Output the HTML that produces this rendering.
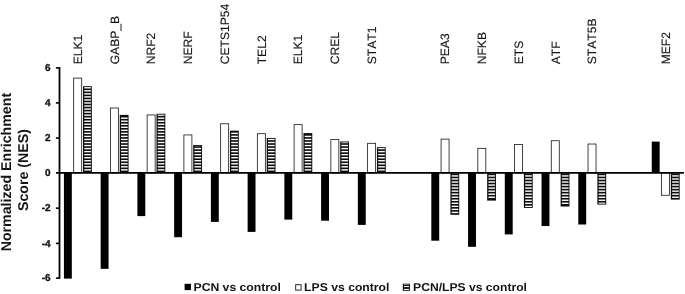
<!DOCTYPE html>
<html><head><meta charset="utf-8"><title>NES chart</title><style>html,body{margin:0;padding:0;background:#fff}svg{display:block}text{text-rendering:geometricPrecision;font-kerning:none;font-family:"Liberation Sans",Arial,sans-serif}</style></head><body>
<svg width="685" height="294" viewBox="0 0 685 294">
<rect width="685" height="294" fill="#fff"/>
<rect x="63.92" y="172.90" width="7.9" height="105.70" fill="#000"/>
<rect x="73.67" y="78.12" width="8" height="94.78" fill="#fff" stroke="#222" stroke-width="0.85"/>
<rect x="83.02" y="86.20" width="8.8" height="86.70" fill="#0c0c0c"/>
<rect x="84.27" y="87.10" width="6.65" height="1.38" fill="#fff"/>
<rect x="84.27" y="90.12" width="6.65" height="1.40" fill="#fff"/>
<rect x="84.27" y="93.16" width="6.65" height="1.40" fill="#fff"/>
<rect x="84.27" y="96.20" width="6.65" height="1.40" fill="#fff"/>
<rect x="84.27" y="99.24" width="6.65" height="1.40" fill="#fff"/>
<rect x="84.27" y="102.28" width="6.65" height="1.40" fill="#fff"/>
<rect x="84.27" y="105.32" width="6.65" height="1.40" fill="#fff"/>
<rect x="84.27" y="108.36" width="6.65" height="1.40" fill="#fff"/>
<rect x="84.27" y="111.40" width="6.65" height="1.40" fill="#fff"/>
<rect x="84.27" y="114.44" width="6.65" height="1.40" fill="#fff"/>
<rect x="84.27" y="117.48" width="6.65" height="1.40" fill="#fff"/>
<rect x="84.27" y="120.52" width="6.65" height="1.40" fill="#fff"/>
<rect x="84.27" y="123.56" width="6.65" height="1.40" fill="#fff"/>
<rect x="84.27" y="126.60" width="6.65" height="1.40" fill="#fff"/>
<rect x="84.27" y="129.64" width="6.65" height="1.40" fill="#fff"/>
<rect x="84.27" y="132.68" width="6.65" height="1.40" fill="#fff"/>
<rect x="84.27" y="135.72" width="6.65" height="1.40" fill="#fff"/>
<rect x="84.27" y="138.76" width="6.65" height="1.40" fill="#fff"/>
<rect x="84.27" y="141.80" width="6.65" height="1.40" fill="#fff"/>
<rect x="84.27" y="144.84" width="6.65" height="1.40" fill="#fff"/>
<rect x="84.27" y="147.88" width="6.65" height="1.40" fill="#fff"/>
<rect x="84.27" y="150.92" width="6.65" height="1.40" fill="#fff"/>
<rect x="84.27" y="153.96" width="6.65" height="1.40" fill="#fff"/>
<rect x="84.27" y="157.00" width="6.65" height="1.40" fill="#fff"/>
<rect x="84.27" y="160.04" width="6.65" height="1.40" fill="#fff"/>
<rect x="84.27" y="163.08" width="6.65" height="1.40" fill="#fff"/>
<rect x="84.27" y="166.12" width="6.65" height="1.40" fill="#fff"/>
<rect x="84.27" y="169.16" width="6.65" height="1.40" fill="#fff"/>
<rect x="84.27" y="172.20" width="6.65" height="0.70" fill="#fff"/>
<text transform="translate(81.97,64.3) rotate(-90)" font-size="12.12" fill="#141414" stroke="#141414" stroke-width="0.15">ELK1</text>
<rect x="100.66" y="172.90" width="7.9" height="95.90" fill="#000"/>
<rect x="110.41" y="108.02" width="8" height="64.88" fill="#fff" stroke="#222" stroke-width="0.85"/>
<rect x="119.76" y="114.90" width="8.8" height="58.00" fill="#0c0c0c"/>
<rect x="121.01" y="117.48" width="6.65" height="1.40" fill="#fff"/>
<rect x="121.01" y="120.52" width="6.65" height="1.40" fill="#fff"/>
<rect x="121.01" y="123.56" width="6.65" height="1.40" fill="#fff"/>
<rect x="121.01" y="126.60" width="6.65" height="1.40" fill="#fff"/>
<rect x="121.01" y="129.64" width="6.65" height="1.40" fill="#fff"/>
<rect x="121.01" y="132.68" width="6.65" height="1.40" fill="#fff"/>
<rect x="121.01" y="135.72" width="6.65" height="1.40" fill="#fff"/>
<rect x="121.01" y="138.76" width="6.65" height="1.40" fill="#fff"/>
<rect x="121.01" y="141.80" width="6.65" height="1.40" fill="#fff"/>
<rect x="121.01" y="144.84" width="6.65" height="1.40" fill="#fff"/>
<rect x="121.01" y="147.88" width="6.65" height="1.40" fill="#fff"/>
<rect x="121.01" y="150.92" width="6.65" height="1.40" fill="#fff"/>
<rect x="121.01" y="153.96" width="6.65" height="1.40" fill="#fff"/>
<rect x="121.01" y="157.00" width="6.65" height="1.40" fill="#fff"/>
<rect x="121.01" y="160.04" width="6.65" height="1.40" fill="#fff"/>
<rect x="121.01" y="163.08" width="6.65" height="1.40" fill="#fff"/>
<rect x="121.01" y="166.12" width="6.65" height="1.40" fill="#fff"/>
<rect x="121.01" y="169.16" width="6.65" height="1.40" fill="#fff"/>
<rect x="121.01" y="172.20" width="6.65" height="0.70" fill="#fff"/>
<text transform="translate(118.71,64.3) rotate(-90)" font-size="12.12" fill="#141414" stroke="#141414" stroke-width="0.15">GABP_B</text>
<rect x="137.40" y="172.90" width="7.9" height="43.20" fill="#000"/>
<rect x="147.15" y="114.97" width="8" height="57.93" fill="#fff" stroke="#222" stroke-width="0.85"/>
<rect x="156.50" y="113.75" width="8.8" height="59.15" fill="#0c0c0c"/>
<rect x="157.75" y="114.65" width="6.65" height="1.19" fill="#fff"/>
<rect x="157.75" y="117.48" width="6.65" height="1.40" fill="#fff"/>
<rect x="157.75" y="120.52" width="6.65" height="1.40" fill="#fff"/>
<rect x="157.75" y="123.56" width="6.65" height="1.40" fill="#fff"/>
<rect x="157.75" y="126.60" width="6.65" height="1.40" fill="#fff"/>
<rect x="157.75" y="129.64" width="6.65" height="1.40" fill="#fff"/>
<rect x="157.75" y="132.68" width="6.65" height="1.40" fill="#fff"/>
<rect x="157.75" y="135.72" width="6.65" height="1.40" fill="#fff"/>
<rect x="157.75" y="138.76" width="6.65" height="1.40" fill="#fff"/>
<rect x="157.75" y="141.80" width="6.65" height="1.40" fill="#fff"/>
<rect x="157.75" y="144.84" width="6.65" height="1.40" fill="#fff"/>
<rect x="157.75" y="147.88" width="6.65" height="1.40" fill="#fff"/>
<rect x="157.75" y="150.92" width="6.65" height="1.40" fill="#fff"/>
<rect x="157.75" y="153.96" width="6.65" height="1.40" fill="#fff"/>
<rect x="157.75" y="157.00" width="6.65" height="1.40" fill="#fff"/>
<rect x="157.75" y="160.04" width="6.65" height="1.40" fill="#fff"/>
<rect x="157.75" y="163.08" width="6.65" height="1.40" fill="#fff"/>
<rect x="157.75" y="166.12" width="6.65" height="1.40" fill="#fff"/>
<rect x="157.75" y="169.16" width="6.65" height="1.40" fill="#fff"/>
<rect x="157.75" y="172.20" width="6.65" height="0.70" fill="#fff"/>
<text transform="translate(155.45,64.3) rotate(-90)" font-size="12.12" fill="#141414" stroke="#141414" stroke-width="0.15">NRF2</text>
<rect x="174.14" y="172.90" width="7.9" height="64.30" fill="#000"/>
<rect x="183.89" y="134.93" width="8" height="37.97" fill="#fff" stroke="#222" stroke-width="0.85"/>
<rect x="193.24" y="145.00" width="8.8" height="27.90" fill="#0c0c0c"/>
<rect x="194.49" y="145.90" width="6.65" height="0.34" fill="#fff"/>
<rect x="194.49" y="147.88" width="6.65" height="1.40" fill="#fff"/>
<rect x="194.49" y="150.92" width="6.65" height="1.40" fill="#fff"/>
<rect x="194.49" y="153.96" width="6.65" height="1.40" fill="#fff"/>
<rect x="194.49" y="157.00" width="6.65" height="1.40" fill="#fff"/>
<rect x="194.49" y="160.04" width="6.65" height="1.40" fill="#fff"/>
<rect x="194.49" y="163.08" width="6.65" height="1.40" fill="#fff"/>
<rect x="194.49" y="166.12" width="6.65" height="1.40" fill="#fff"/>
<rect x="194.49" y="169.16" width="6.65" height="1.40" fill="#fff"/>
<rect x="194.49" y="172.20" width="6.65" height="0.70" fill="#fff"/>
<text transform="translate(192.19,64.3) rotate(-90)" font-size="12.12" fill="#141414" stroke="#141414" stroke-width="0.15">NERF</text>
<rect x="210.88" y="172.90" width="7.9" height="49.00" fill="#000"/>
<rect x="220.63" y="123.77" width="8" height="49.13" fill="#fff" stroke="#222" stroke-width="0.85"/>
<rect x="229.98" y="130.65" width="8.8" height="42.25" fill="#0c0c0c"/>
<rect x="231.23" y="132.68" width="6.65" height="1.40" fill="#fff"/>
<rect x="231.23" y="135.72" width="6.65" height="1.40" fill="#fff"/>
<rect x="231.23" y="138.76" width="6.65" height="1.40" fill="#fff"/>
<rect x="231.23" y="141.80" width="6.65" height="1.40" fill="#fff"/>
<rect x="231.23" y="144.84" width="6.65" height="1.40" fill="#fff"/>
<rect x="231.23" y="147.88" width="6.65" height="1.40" fill="#fff"/>
<rect x="231.23" y="150.92" width="6.65" height="1.40" fill="#fff"/>
<rect x="231.23" y="153.96" width="6.65" height="1.40" fill="#fff"/>
<rect x="231.23" y="157.00" width="6.65" height="1.40" fill="#fff"/>
<rect x="231.23" y="160.04" width="6.65" height="1.40" fill="#fff"/>
<rect x="231.23" y="163.08" width="6.65" height="1.40" fill="#fff"/>
<rect x="231.23" y="166.12" width="6.65" height="1.40" fill="#fff"/>
<rect x="231.23" y="169.16" width="6.65" height="1.40" fill="#fff"/>
<rect x="231.23" y="172.20" width="6.65" height="0.70" fill="#fff"/>
<text transform="translate(228.93,64.3) rotate(-90)" font-size="12.12" fill="#141414" stroke="#141414" stroke-width="0.15">CETS1P54</text>
<rect x="247.62" y="172.90" width="7.9" height="59.00" fill="#000"/>
<rect x="257.37" y="133.68" width="8" height="39.22" fill="#fff" stroke="#222" stroke-width="0.85"/>
<rect x="266.72" y="138.00" width="8.8" height="34.90" fill="#0c0c0c"/>
<rect x="267.97" y="138.90" width="6.65" height="1.26" fill="#fff"/>
<rect x="267.97" y="141.80" width="6.65" height="1.40" fill="#fff"/>
<rect x="267.97" y="144.84" width="6.65" height="1.40" fill="#fff"/>
<rect x="267.97" y="147.88" width="6.65" height="1.40" fill="#fff"/>
<rect x="267.97" y="150.92" width="6.65" height="1.40" fill="#fff"/>
<rect x="267.97" y="153.96" width="6.65" height="1.40" fill="#fff"/>
<rect x="267.97" y="157.00" width="6.65" height="1.40" fill="#fff"/>
<rect x="267.97" y="160.04" width="6.65" height="1.40" fill="#fff"/>
<rect x="267.97" y="163.08" width="6.65" height="1.40" fill="#fff"/>
<rect x="267.97" y="166.12" width="6.65" height="1.40" fill="#fff"/>
<rect x="267.97" y="169.16" width="6.65" height="1.40" fill="#fff"/>
<rect x="267.97" y="172.20" width="6.65" height="0.70" fill="#fff"/>
<text transform="translate(265.67,64.3) rotate(-90)" font-size="12.12" fill="#141414" stroke="#141414" stroke-width="0.15">TEL2</text>
<rect x="284.36" y="172.90" width="7.9" height="46.70" fill="#000"/>
<rect x="294.11" y="124.62" width="8" height="48.28" fill="#fff" stroke="#222" stroke-width="0.85"/>
<rect x="303.46" y="133.10" width="8.8" height="39.80" fill="#0c0c0c"/>
<rect x="304.71" y="135.72" width="6.65" height="1.40" fill="#fff"/>
<rect x="304.71" y="138.76" width="6.65" height="1.40" fill="#fff"/>
<rect x="304.71" y="141.80" width="6.65" height="1.40" fill="#fff"/>
<rect x="304.71" y="144.84" width="6.65" height="1.40" fill="#fff"/>
<rect x="304.71" y="147.88" width="6.65" height="1.40" fill="#fff"/>
<rect x="304.71" y="150.92" width="6.65" height="1.40" fill="#fff"/>
<rect x="304.71" y="153.96" width="6.65" height="1.40" fill="#fff"/>
<rect x="304.71" y="157.00" width="6.65" height="1.40" fill="#fff"/>
<rect x="304.71" y="160.04" width="6.65" height="1.40" fill="#fff"/>
<rect x="304.71" y="163.08" width="6.65" height="1.40" fill="#fff"/>
<rect x="304.71" y="166.12" width="6.65" height="1.40" fill="#fff"/>
<rect x="304.71" y="169.16" width="6.65" height="1.40" fill="#fff"/>
<rect x="304.71" y="172.20" width="6.65" height="0.70" fill="#fff"/>
<text transform="translate(302.41,64.3) rotate(-90)" font-size="12.12" fill="#141414" stroke="#141414" stroke-width="0.15">ELK1</text>
<rect x="321.10" y="172.90" width="7.9" height="47.80" fill="#000"/>
<rect x="330.85" y="139.58" width="8" height="33.32" fill="#fff" stroke="#222" stroke-width="0.85"/>
<rect x="340.20" y="141.50" width="8.8" height="31.40" fill="#0c0c0c"/>
<rect x="341.45" y="142.40" width="6.65" height="0.80" fill="#fff"/>
<rect x="341.45" y="144.84" width="6.65" height="1.40" fill="#fff"/>
<rect x="341.45" y="147.88" width="6.65" height="1.40" fill="#fff"/>
<rect x="341.45" y="150.92" width="6.65" height="1.40" fill="#fff"/>
<rect x="341.45" y="153.96" width="6.65" height="1.40" fill="#fff"/>
<rect x="341.45" y="157.00" width="6.65" height="1.40" fill="#fff"/>
<rect x="341.45" y="160.04" width="6.65" height="1.40" fill="#fff"/>
<rect x="341.45" y="163.08" width="6.65" height="1.40" fill="#fff"/>
<rect x="341.45" y="166.12" width="6.65" height="1.40" fill="#fff"/>
<rect x="341.45" y="169.16" width="6.65" height="1.40" fill="#fff"/>
<rect x="341.45" y="172.20" width="6.65" height="0.70" fill="#fff"/>
<text transform="translate(339.15,64.3) rotate(-90)" font-size="12.12" fill="#141414" stroke="#141414" stroke-width="0.15">CREL</text>
<rect x="357.84" y="172.90" width="7.9" height="52.00" fill="#000"/>
<rect x="367.59" y="143.33" width="8" height="29.57" fill="#fff" stroke="#222" stroke-width="0.85"/>
<rect x="376.94" y="147.20" width="8.8" height="25.70" fill="#0c0c0c"/>
<rect x="378.19" y="148.10" width="6.65" height="1.18" fill="#fff"/>
<rect x="378.19" y="150.92" width="6.65" height="1.40" fill="#fff"/>
<rect x="378.19" y="153.96" width="6.65" height="1.40" fill="#fff"/>
<rect x="378.19" y="157.00" width="6.65" height="1.40" fill="#fff"/>
<rect x="378.19" y="160.04" width="6.65" height="1.40" fill="#fff"/>
<rect x="378.19" y="163.08" width="6.65" height="1.40" fill="#fff"/>
<rect x="378.19" y="166.12" width="6.65" height="1.40" fill="#fff"/>
<rect x="378.19" y="169.16" width="6.65" height="1.40" fill="#fff"/>
<rect x="378.19" y="172.20" width="6.65" height="0.70" fill="#fff"/>
<text transform="translate(375.89,64.3) rotate(-90)" font-size="12.12" fill="#141414" stroke="#141414" stroke-width="0.15">STAT1</text>
<rect x="431.32" y="172.90" width="7.9" height="67.80" fill="#000"/>
<rect x="441.07" y="139.12" width="8" height="33.78" fill="#fff" stroke="#222" stroke-width="0.85"/>
<rect x="450.42" y="172.90" width="8.8" height="41.90" fill="#0c0c0c"/>
<rect x="451.67" y="172.90" width="6.65" height="0.70" fill="#fff"/>
<rect x="451.67" y="175.24" width="6.65" height="1.40" fill="#fff"/>
<rect x="451.67" y="178.28" width="6.65" height="1.40" fill="#fff"/>
<rect x="451.67" y="181.32" width="6.65" height="1.40" fill="#fff"/>
<rect x="451.67" y="184.36" width="6.65" height="1.40" fill="#fff"/>
<rect x="451.67" y="187.40" width="6.65" height="1.40" fill="#fff"/>
<rect x="451.67" y="190.44" width="6.65" height="1.40" fill="#fff"/>
<rect x="451.67" y="193.48" width="6.65" height="1.40" fill="#fff"/>
<rect x="451.67" y="196.52" width="6.65" height="1.40" fill="#fff"/>
<rect x="451.67" y="199.56" width="6.65" height="1.40" fill="#fff"/>
<rect x="451.67" y="202.60" width="6.65" height="1.40" fill="#fff"/>
<rect x="451.67" y="205.64" width="6.65" height="1.40" fill="#fff"/>
<rect x="451.67" y="208.68" width="6.65" height="1.40" fill="#fff"/>
<rect x="451.67" y="211.72" width="6.65" height="1.40" fill="#fff"/>
<text transform="translate(449.37,64.3) rotate(-90)" font-size="12.12" fill="#141414" stroke="#141414" stroke-width="0.15">PEA3</text>
<rect x="468.06" y="172.90" width="7.9" height="73.90" fill="#000"/>
<rect x="477.81" y="148.33" width="8" height="24.57" fill="#fff" stroke="#222" stroke-width="0.85"/>
<rect x="487.16" y="172.90" width="8.8" height="27.70" fill="#0c0c0c"/>
<rect x="488.41" y="172.90" width="6.65" height="0.70" fill="#fff"/>
<rect x="488.41" y="175.24" width="6.65" height="1.40" fill="#fff"/>
<rect x="488.41" y="178.28" width="6.65" height="1.40" fill="#fff"/>
<rect x="488.41" y="181.32" width="6.65" height="1.40" fill="#fff"/>
<rect x="488.41" y="184.36" width="6.65" height="1.40" fill="#fff"/>
<rect x="488.41" y="187.40" width="6.65" height="1.40" fill="#fff"/>
<rect x="488.41" y="190.44" width="6.65" height="1.40" fill="#fff"/>
<rect x="488.41" y="193.48" width="6.65" height="1.40" fill="#fff"/>
<rect x="488.41" y="196.52" width="6.65" height="1.40" fill="#fff"/>
<text transform="translate(486.11,64.3) rotate(-90)" font-size="12.12" fill="#141414" stroke="#141414" stroke-width="0.15">NFKB</text>
<rect x="504.80" y="172.90" width="7.9" height="61.50" fill="#000"/>
<rect x="514.55" y="144.53" width="8" height="28.38" fill="#fff" stroke="#222" stroke-width="0.85"/>
<rect x="523.90" y="172.90" width="8.8" height="35.00" fill="#0c0c0c"/>
<rect x="525.15" y="172.90" width="6.65" height="0.70" fill="#fff"/>
<rect x="525.15" y="175.24" width="6.65" height="1.40" fill="#fff"/>
<rect x="525.15" y="178.28" width="6.65" height="1.40" fill="#fff"/>
<rect x="525.15" y="181.32" width="6.65" height="1.40" fill="#fff"/>
<rect x="525.15" y="184.36" width="6.65" height="1.40" fill="#fff"/>
<rect x="525.15" y="187.40" width="6.65" height="1.40" fill="#fff"/>
<rect x="525.15" y="190.44" width="6.65" height="1.40" fill="#fff"/>
<rect x="525.15" y="193.48" width="6.65" height="1.40" fill="#fff"/>
<rect x="525.15" y="196.52" width="6.65" height="1.40" fill="#fff"/>
<rect x="525.15" y="199.56" width="6.65" height="1.40" fill="#fff"/>
<rect x="525.15" y="202.60" width="6.65" height="1.40" fill="#fff"/>
<rect x="525.15" y="205.64" width="6.65" height="1.36" fill="#fff"/>
<text transform="translate(522.85,64.3) rotate(-90)" font-size="12.12" fill="#141414" stroke="#141414" stroke-width="0.15">ETS</text>
<rect x="541.54" y="172.90" width="7.9" height="53.15" fill="#000"/>
<rect x="551.29" y="140.73" width="8" height="32.17" fill="#fff" stroke="#222" stroke-width="0.85"/>
<rect x="560.64" y="172.90" width="8.8" height="33.60" fill="#0c0c0c"/>
<rect x="561.89" y="172.90" width="6.65" height="0.70" fill="#fff"/>
<rect x="561.89" y="175.24" width="6.65" height="1.40" fill="#fff"/>
<rect x="561.89" y="178.28" width="6.65" height="1.40" fill="#fff"/>
<rect x="561.89" y="181.32" width="6.65" height="1.40" fill="#fff"/>
<rect x="561.89" y="184.36" width="6.65" height="1.40" fill="#fff"/>
<rect x="561.89" y="187.40" width="6.65" height="1.40" fill="#fff"/>
<rect x="561.89" y="190.44" width="6.65" height="1.40" fill="#fff"/>
<rect x="561.89" y="193.48" width="6.65" height="1.40" fill="#fff"/>
<rect x="561.89" y="196.52" width="6.65" height="1.40" fill="#fff"/>
<rect x="561.89" y="199.56" width="6.65" height="1.40" fill="#fff"/>
<rect x="561.89" y="202.60" width="6.65" height="1.40" fill="#fff"/>
<text transform="translate(559.59,64.3) rotate(-90)" font-size="12.12" fill="#141414" stroke="#141414" stroke-width="0.15">ATF</text>
<rect x="578.28" y="172.90" width="7.9" height="51.60" fill="#000"/>
<rect x="588.03" y="144.03" width="8" height="28.88" fill="#fff" stroke="#222" stroke-width="0.85"/>
<rect x="597.38" y="172.90" width="8.8" height="31.70" fill="#0c0c0c"/>
<rect x="598.63" y="172.90" width="6.65" height="0.70" fill="#fff"/>
<rect x="598.63" y="175.24" width="6.65" height="1.40" fill="#fff"/>
<rect x="598.63" y="178.28" width="6.65" height="1.40" fill="#fff"/>
<rect x="598.63" y="181.32" width="6.65" height="1.40" fill="#fff"/>
<rect x="598.63" y="184.36" width="6.65" height="1.40" fill="#fff"/>
<rect x="598.63" y="187.40" width="6.65" height="1.40" fill="#fff"/>
<rect x="598.63" y="190.44" width="6.65" height="1.40" fill="#fff"/>
<rect x="598.63" y="193.48" width="6.65" height="1.40" fill="#fff"/>
<rect x="598.63" y="196.52" width="6.65" height="1.40" fill="#fff"/>
<rect x="598.63" y="199.56" width="6.65" height="1.40" fill="#fff"/>
<rect x="598.63" y="202.60" width="6.65" height="1.10" fill="#fff"/>
<text transform="translate(596.33,64.3) rotate(-90)" font-size="12.12" fill="#141414" stroke="#141414" stroke-width="0.15">STAT5B</text>
<rect x="651.76" y="141.60" width="7.9" height="31.30" fill="#000"/>
<rect x="661.51" y="172.90" width="8" height="22.37" fill="#fff" stroke="#222" stroke-width="0.85"/>
<rect x="670.86" y="172.90" width="8.8" height="26.70" fill="#0c0c0c"/>
<rect x="672.11" y="172.90" width="6.65" height="0.70" fill="#fff"/>
<rect x="672.11" y="175.24" width="6.65" height="1.40" fill="#fff"/>
<rect x="672.11" y="178.28" width="6.65" height="1.40" fill="#fff"/>
<rect x="672.11" y="181.32" width="6.65" height="1.40" fill="#fff"/>
<rect x="672.11" y="184.36" width="6.65" height="1.40" fill="#fff"/>
<rect x="672.11" y="187.40" width="6.65" height="1.40" fill="#fff"/>
<rect x="672.11" y="190.44" width="6.65" height="1.40" fill="#fff"/>
<rect x="672.11" y="193.48" width="6.65" height="1.40" fill="#fff"/>
<rect x="672.11" y="196.52" width="6.65" height="1.40" fill="#fff"/>
<text transform="translate(669.81,64.3) rotate(-90)" font-size="12.12" fill="#141414" stroke="#141414" stroke-width="0.15">MEF2</text>
<line x1="59.5" y1="67.1" x2="59.5" y2="278.9" stroke="#000" stroke-width="1.8"/>
<line x1="56" y1="172.9" x2="683.9" y2="172.9" stroke="#000" stroke-width="1.85"/>
<line x1="55.9" y1="67.90" x2="59.5" y2="67.90" stroke="#000" stroke-width="1.6"/>
<text x="50.6" y="71.10" text-anchor="end" font-size="10" font-weight="bold" fill="#141414" stroke="#141414" stroke-width="0.35">6</text>
<line x1="55.9" y1="102.90" x2="59.5" y2="102.90" stroke="#000" stroke-width="1.6"/>
<text x="50.6" y="106.10" text-anchor="end" font-size="10" font-weight="bold" fill="#141414" stroke="#141414" stroke-width="0.35">4</text>
<line x1="55.9" y1="138.05" x2="59.5" y2="138.05" stroke="#000" stroke-width="1.6"/>
<text x="50.6" y="141.25" text-anchor="end" font-size="10" font-weight="bold" fill="#141414" stroke="#141414" stroke-width="0.35">2</text>
<text x="50.6" y="176.10" text-anchor="end" font-size="10" font-weight="bold" fill="#141414" stroke="#141414" stroke-width="0.35">0</text>
<line x1="55.9" y1="208.15" x2="59.5" y2="208.15" stroke="#000" stroke-width="1.6"/>
<text x="50.6" y="211.35" text-anchor="end" font-size="10" font-weight="bold" fill="#141414" stroke="#141414" stroke-width="0.35">-2</text>
<line x1="55.9" y1="243.40" x2="59.5" y2="243.40" stroke="#000" stroke-width="1.6"/>
<text x="50.6" y="246.60" text-anchor="end" font-size="10" font-weight="bold" fill="#141414" stroke="#141414" stroke-width="0.35">-4</text>
<line x1="55.9" y1="278.10" x2="59.5" y2="278.10" stroke="#000" stroke-width="1.6"/>
<text x="50.6" y="281.30" text-anchor="end" font-size="10" font-weight="bold" fill="#141414" stroke="#141414" stroke-width="0.35">-6</text>
<text transform="translate(11,172.1) rotate(-90)" text-anchor="middle" font-size="14.2" font-weight="bold" fill="#141414">Normalized Enrichment</text>
<text transform="translate(27.7,170.0) rotate(-90)" text-anchor="middle" font-size="14.2" font-weight="bold" fill="#141414">Score (NES)</text>
<rect x="184.6" y="283.8" width="6.35" height="6.3" fill="#000"/>
<text transform="translate(193.5,291.3) scale(1.07,1)" font-size="11.4" font-weight="bold" fill="#141414">PCN vs control</text>
<rect x="295.7" y="284.7" width="5.4" height="5.4" fill="#fff" stroke="#111" stroke-width="0.9"/>
<text transform="translate(304.1,291.3) scale(1.07,1)" font-size="11.4" font-weight="bold" fill="#141414">LPS vs control</text>
<rect x="402.8" y="283.7" width="7.1" height="7.1" fill="#0c0c0c"/>
<rect x="404" y="284.55" width="4.9" height="0.5" fill="#fff"/>
<rect x="404" y="286.00" width="4.9" height="1.1" fill="#fff"/>
<rect x="404" y="288.90" width="4.9" height="1.1" fill="#fff"/>
<text transform="translate(413.1,291.3) scale(1.064,1)" font-size="11.4" font-weight="bold" fill="#141414">PCN/LPS vs control</text>
</svg>
</body></html>
